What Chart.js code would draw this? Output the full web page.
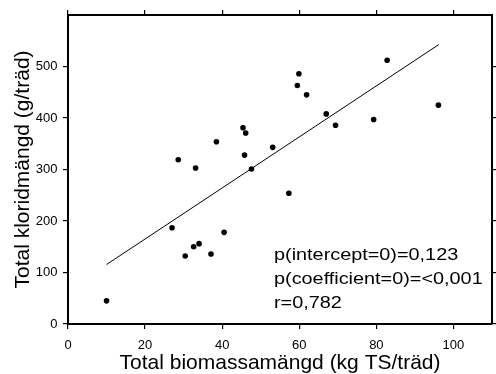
<!DOCTYPE html>
<html>
<head>
<meta charset="utf-8">
<script src="https://cdn.jsdelivr.net/npm/chart.js@4/dist/chart.umd.min.js"></script>
<style>
  html, body { margin: 0; padding: 0; background: #fff; }
  canvas { display: block; }
</style>
</head>
<body>
<canvas id="chart" width="496" height="374"></canvas>
<script>
// Data
const biomass = [10, 27.0, 28.6, 30.4, 32.6, 33.1, 34.0, 37.1, 38.5, 40.5, 45.4, 46.1, 45.8,
    47.6, 53.1, 57.3, 59.5, 59.9, 61.9, 67.0, 69.4, 79.3, 82.8, 96.1];
const chloride = [45, 187, 319, 132, 150, 303, 156, 136, 354, 178, 381, 371, 328,
    301, 343, 254, 463, 486, 445, 408, 386, 397, 512, 425];

// regression line end points
const fitX = [10, 96.2];
const fitY = [115.5, 542.6];

const xTicks = [0, 20, 40, 60, 80, 100];
const yTicks = [0, 100, 200, 300, 400, 500];

const xTitle = 'Total biomassamängd (kg TS/träd)';
const yTitle = 'Total kloridmängd (g/träd)';
const statLines = ['p(intercept=0)=0,123', 'p(coefficient=0)=<0,001', 'r=0,782'];

const FONT = '"Liberation Sans", Arial, sans-serif';

const points = biomass.map((v, i) => ({ x: v, y: chloride[i] }));
const fitLine = fitX.map((v, i) => ({ x: v, y: fitY[i] }));

// the stats text is drawn a bit stretched, like in the original figure
const statsText = {
    id: 'statsText',
    afterDatasetsDraw(chart) {
        const ctx = chart.ctx;
        ctx.save();
        ctx.font = '16px ' + FONT;
        ctx.fillStyle = '#000';
        ctx.textBaseline = 'alphabetic';
        statLines.forEach((line, i) => {
            ctx.save();
            ctx.translate(274, 259.5 + i * 24);
            ctx.scale(1.24, 1);
            ctx.fillText(line, 0, 0);
            ctx.restore();
        });
        ctx.restore();
    }
};

const gridOpts = { drawOnChartArea: false, color: '#000', lineWidth: 1.2, tickLength: 5 };
const borderOpts = { display: true, color: '#000', width: 2 };

new Chart(document.getElementById('chart'), {
    type: 'scatter',
    data: {
        datasets: [
            {
                data: points,
                xAxisID: 'x',
                yAxisID: 'y',
                pointRadius: 2.8,
                pointBackgroundColor: '#000',
                pointBorderWidth: 0
            },
            {
                type: 'line',
                data: fitLine,
                xAxisID: 'x',
                yAxisID: 'y',
                showLine: true,
                borderColor: '#000',
                borderWidth: 1,
                pointRadius: 0,
                fill: false
            }
        ]
    },
    options: {
        responsive: false,
        animation: false,
        layout: { padding: { left: 0, right: 0, top: 0, bottom: 0 } },
        plugins: {
            legend: { display: false },
            tooltip: { enabled: false }
        },
        scales: {
            x: {
                type: 'linear',
                position: 'bottom',
                min: 0,
                max: 110,
                afterBuildTicks: s => { s.ticks = xTicks.map(v => ({ value: v })); },
                afterFit: s => { s.height = 50; },
                grid: gridOpts,
                border: borderOpts,
                ticks: { color: '#000', font: { family: FONT, size: 13 }, padding: 9, maxRotation: 0 },
                title: {
                    display: true,
                    text: xTitle,
                    color: '#000',
                    font: { family: FONT, size: 21, lineHeight: 1 },
                    padding: { top: 0, bottom: 0 }
                }
            },
            x2: {
                type: 'linear',
                position: 'top',
                min: 0,
                max: 110,
                afterBuildTicks: s => { s.ticks = xTicks.map(v => ({ value: v })); },
                afterFit: s => { s.height = 15; },
                grid: gridOpts,
                border: borderOpts,
                ticks: { display: false }
            },
            y: {
                type: 'linear',
                position: 'left',
                min: 0,
                max: 600,
                afterBuildTicks: s => { s.ticks = yTicks.map(v => ({ value: v })); },
                afterFit: s => { s.width = 68; },
                grid: gridOpts,
                border: borderOpts,
                ticks: { color: '#000', font: { family: FONT, size: 13 }, padding: 5.5 },
                title: {
                    display: true,
                    text: yTitle,
                    color: '#000',
                    font: { family: FONT, size: 21, lineHeight: 1 },
                    padding: { top: 13, bottom: 0 }
                }
            },
            y2: {
                type: 'linear',
                position: 'right',
                min: 0,
                max: 600,
                afterBuildTicks: s => { s.ticks = yTicks.map(v => ({ value: v })); },
                afterFit: s => { s.width = 1.5; },
                grid: gridOpts,
                border: borderOpts,
                ticks: { display: false }
            }
        }
    },
    plugins: [statsText]
});
</script>
</body>
</html>
